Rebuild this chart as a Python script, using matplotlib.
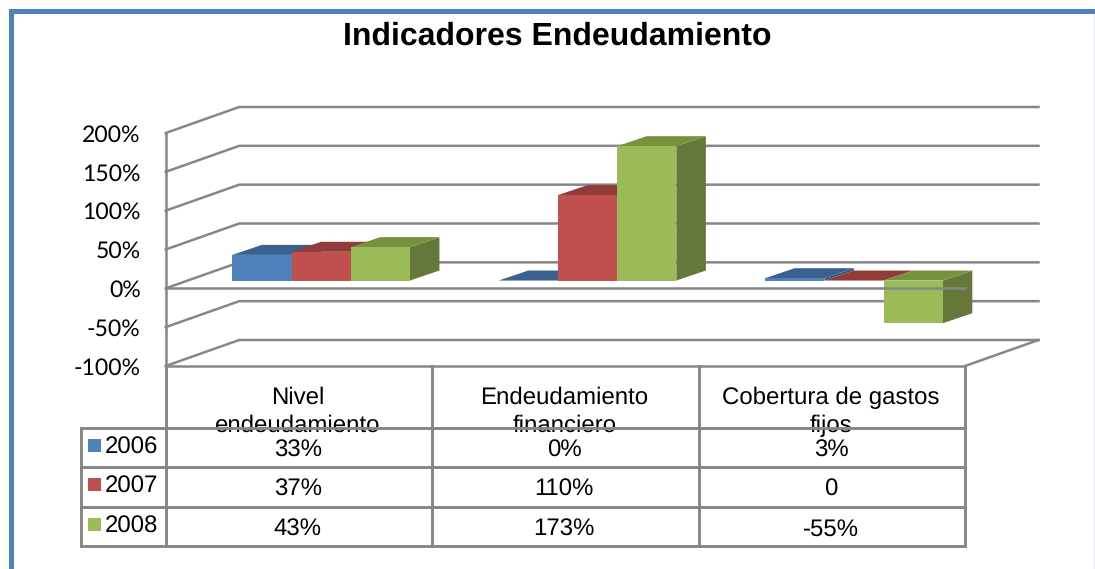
import matplotlib
matplotlib.use("Agg")
import matplotlib.pyplot as plt
from matplotlib.patches import Polygon, Rectangle

plt.rcParams["text.hinting"] = "no_hinting"
plt.rcParams["text.hinting_factor"] = 1

title = "Indicadores Endeudamiento"
categories = ["Nivel\nendeudamiento", "Endeudamiento\nfinanciero", "Cobertura de gastos\nfijos"]
years = ["2006", "2007", "2008"]
v2006 = [33, 0, 3]
v2007 = [37, 110, 0]
v2008 = [43, 173, -55]
labels2006 = ["33%", "0%", "3%"]
labels2007 = ["37%", "110%", "0"]
labels2008 = ["43%", "173%", "-55%"]
yticks = [-100, -50, 0, 50, 100, 150, 200]

FRONT = ["#4F81BD", "#C0504D", "#9BBB59"]
TOP = ["#3A6090", "#923C3A", "#76923C"]
SIDE = ["#345780", "#7F3634", "#66773A"]
GRID = "#868686"
W, H = 1095, 569

fig = plt.figure(figsize=(W / 100, H / 100), dpi=100, facecolor="white")

ax = fig.add_axes([165.7 / W, 1 - 366 / H, 799.3 / W, 233 / H])
ax.set_xlim(0, 3)
ax.set_ylim(-100, 200)
ax.patch.set_visible(False)
for s in ("top", "right"):
    ax.spines[s].set_visible(False)
for s in ("left", "bottom"):
    ax.spines[s].set_color(GRID)
    ax.spines[s].set_linewidth(1.8)
ax.set_xticks([])
ax.set_yticks(yticks)
ax.set_yticklabels([f"{t}%" for t in yticks], fontfamily="Lato", fontsize=16.8, color="black")
ax.tick_params(axis="y", length=0, pad=18)

# wall depth (x in category units, y in percent)
BACK_X = 73.5 / 266.4
BACK_Y = 26 / 0.7767
# bar plane and bar depth
PLANE_Y = 7.8 / 0.7767
DX = 29.5 / 266.4
DY = 10 / 0.7767
BW = 59.2 / 266.4
OFFSET = 0.25

for t in yticks:
    ax.plot([0, BACK_X, 3 + BACK_X], [t, t + BACK_Y, t + BACK_Y], color=GRID, lw=1.8,
            clip_on=False, zorder=1, solid_joinstyle="miter")
ax.plot([3, 3 + BACK_X], [-100, -100 + BACK_Y], color=GRID, lw=1.8, clip_on=False, zorder=1)

for s, vals in enumerate([v2006, v2007, v2008]):
    for c, v in enumerate(vals):
        x0 = c + OFFSET + s * BW
        x1 = x0 + BW
        base = PLANE_Y
        top = max(v, 0) + base
        bot = min(v, 0) + base
        z = 3 + s * 0.1
        ax.add_patch(Polygon([(x1, bot), (x1 + DX, bot + DY), (x1 + DX, top + DY), (x1, top)],
                             fc=SIDE[s], ec="none", clip_on=False, zorder=z))
        ax.add_patch(Polygon([(x0, top), (x0 + DX, top + DY), (x1 + DX, top + DY), (x1, top)],
                             fc=TOP[s], ec="none", clip_on=False, zorder=z))
        ax.add_patch(Rectangle((x0, bot), BW, top - bot, fc=FRONT[s], ec="none",
                               clip_on=False, zorder=z))

ax.plot([0, 3], [0, 0], color=GRID, lw=1.8, clip_on=False, zorder=5)

# overlay in pixel coordinates: frame, title, data table
ov = fig.add_axes([0, 0, 1, 1])
ov.set_xlim(0, W)
ov.set_ylim(H, 0)
ov.axis("off")

BLUE = "#4F81BD"
ov.add_patch(Rectangle((9, 9), 4.5, H - 9, fc=BLUE, ec="none"))
ov.add_patch(Rectangle((9, 9), W - 9, 4.5, fc=BLUE, ec="none"))
ov.add_patch(Rectangle((W - 1.5, 13.5), 1.5, H, fc="#DCE6F2", ec="none"))

ov.text(557.5, 36, title, ha="center", va="center", fontfamily="Liberation Sans",
        fontweight="bold", fontsize=23, color="black")

col_x = [165.7, 431.7, 699, 965]
row_y = [427.7, 467, 506.7, 546]
TL = 2.1
for x in col_x:
    ov.plot([x, x], [366, row_y[-1]], color=GRID, lw=TL, solid_capstyle="projecting")
ov.plot([80.7, 80.7], [row_y[0], row_y[-1]], color=GRID, lw=TL, solid_capstyle="projecting")
for y in row_y:
    ov.plot([80.7, 965], [y, y], color=GRID, lw=TL, solid_capstyle="projecting", zorder=4)

TXT = dict(fontfamily="Liberation Sans", fontsize=17, color="black", ha="center", va="center")
centers = [(col_x[i] + col_x[i + 1]) / 2 for i in range(3)]
for cx, cat in zip(centers, categories):
    first, second = cat.split("\n")
    ov.text(cx - 1, 398, first, **TXT)
    ov.text(cx - 1, 426, second, **TXT)
for row, y, yl, s_top, name in zip([labels2006, labels2007, labels2008], [451, 490, 530],
                                    [447.5, 486.5, 526.5], [439, 478, 518], years):
    for cx, lab in zip(centers, row):
        ov.text(cx - 1, y, lab, **TXT)
    i = years.index(name)
    ov.add_patch(Rectangle((88, s_top), 13, 13, fc=FRONT[i], ec="none"))
    ov.text(105, yl, name, fontfamily="Liberation Sans", fontsize=17, color="black",
            ha="left", va="center")

fig.savefig("out.png", dpi=100)
